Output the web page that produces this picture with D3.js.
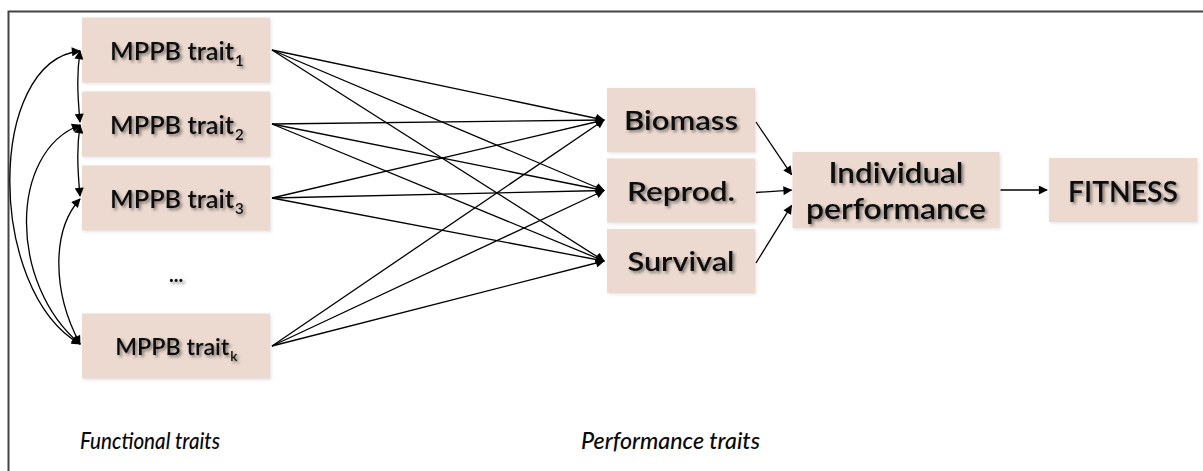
<!DOCTYPE html>
<html>
<head>
<meta charset="utf-8">
<script src="https://cdn.jsdelivr.net/npm/d3@7"></script>
<style>
  body { margin: 0; background: #fff; }
  svg { display: block; }
  text { font-family: Lato, 'Open Sans', sans-serif; fill: #0a0a0a; }
</style>
</head>
<body>
<script>
// diagram content
const traitRows = ['1', '2', '3', '...', 'k']
const traitName = 'MPPB trait'
const performanceTraits = ['Biomass', 'Reprod.', 'Survival']
const individualLabel = ['Individual', 'performance']
const fitnessLabel = ['FITNESS']
const traitCorrelations = [['1', '2'], ['2', '3'], ['1', 'k'], ['2', 'k'], ['3', 'k']]
const footLabels = ['Functional traits', 'Performance traits']

const traits = traitRows.filter(d => d !== '...')
const traitLinks = d3.cross(traits, performanceTraits)

;(function () {
  const W = 1203, H = 471
  const svg = d3.select('body').append('svg')
    .attr('width', W)
    .attr('height', H)

  const cols = ['functional', 'performance', 'individual', 'fitness']
  const colX = d3.scaleOrdinal().domain(cols).range([176, 681, 896, 1123])
  const colW = d3.scaleOrdinal().domain(cols).range([188, 148, 207, 148])
  const colH = d3.scaleOrdinal().domain(cols).range([65, 64, 76, 64])

  const yTrait = d3.scalePoint().domain(traitRows).range([50, 346])
  const yPerf = d3.scalePoint().domain(performanceTraits).range([120, 261])
  const yOut = 190

  const defs = svg.append('defs')
  defs.append('marker')
    .attr('id', 'head')
    .attr('viewBox', '0 0 10 10')
    .attr('refX', 9)
    .attr('refY', 5)
    .attr('markerUnits', 'userSpaceOnUse')
    .attr('markerWidth', 10)
    .attr('markerHeight', 9)
    .attr('orient', 'auto-start-reverse')
    .append('path')
    .attr('d', 'M0,0L10,5L0,10Z')
    .attr('fill', '#000')

  const shadow = defs.append('filter')
    .attr('id', 'shadow')
    .attr('x', '-10%').attr('y', '-20%')
    .attr('width', '130%').attr('height', '150%')
  shadow.append('feDropShadow')
    .attr('dx', 2).attr('dy', 2)
    .attr('stdDeviation', 1.5)
    .attr('flood-color', '#333')
    .attr('flood-opacity', 0.6)

  const boxShadow = defs.append('filter')
    .attr('id', 'boxshadow')
    .attr('x', '-10%').attr('y', '-10%')
    .attr('width', '125%').attr('height', '130%')
  boxShadow.append('feDropShadow')
    .attr('dx', 1.5).attr('dy', 1.5)
    .attr('stdDeviation', 1.5)
    .attr('flood-color', '#bbb')
    .attr('flood-opacity', 0.4)

  // frame (only top and left edges are inside the picture)
  svg.append('path')
    .attr('d', `M8.5,${H}V11.5H${W}`)
    .attr('fill', 'none')
    .attr('stroke', '#444')
    .attr('stroke-width', 2)

  // boxes
  const boxes = [
    ...traits.map(t => ({ col: 'functional', y: yTrait(t) })),
    ...performanceTraits.map(p => ({ col: 'performance', y: yPerf(p) })),
    { col: 'individual', y: yOut },
    { col: 'fitness', y: yOut }
  ]

  svg.append('g').selectAll('rect')
    .data(boxes)
    .enter()
    .append('rect')
    .attr('x', d => colX(d.col) - colW(d.col) / 2)
    .attr('y', d => d.y - colH(d.col) / 2)
    .attr('width', d => colW(d.col))
    .attr('height', d => colH(d.col))
    .attr('fill', '#ecd9cf')
    .attr('filter', 'url(#boxshadow)')

  // links trait -> performance
  const links = svg.append('g')
    .attr('stroke', '#000')
    .attr('stroke-width', 1.3)
    .attr('fill', 'none')

  const traitRight = colX('functional') + colW('functional') / 2 + 2
  const perfLeft = colX('performance') - colW('performance') / 2 - 3

  links.selectAll('.tl')
    .data(traitLinks)
    .enter()
    .append('line')
    .attr('x1', traitRight)
    .attr('y1', d => yTrait(d[0]))
    .attr('x2', perfLeft)
    .attr('y2', d => yPerf(d[1]))
    .attr('marker-end', 'url(#head)')

  const perfRight = colX('performance') + colW('performance') / 2 + 1
  const indLeft = colX('individual') - colW('individual') / 2 - 1
  links.selectAll('.pl')
    .data(performanceTraits)
    .enter()
    .append('line')
    .attr('x1', perfRight)
    .attr('y1', d => yPerf(d) + 2)
    .attr('x2', indLeft)
    .attr('y2', d => yOut + (yPerf(d) - yOut) * 0.22)
    .attr('marker-end', 'url(#head)')

  links.append('line')
    .attr('x1', colX('individual') + colW('individual') / 2 + 1)
    .attr('y1', yOut)
    .attr('x2', colX('fitness') - colW('fitness') / 2 - 2)
    .attr('y2', yOut)
    .attr('marker-end', 'url(#head)')

  // correlation arcs on the left
  const traitLeft = colX('functional') - colW('functional') / 2 - 2
  const bulge = d3.scaleLinear().domain([74, 148, 222, 296]).range([3, 22, 55, 71])
  const lean = d3.scaleLinear().domain([74, 296]).range([0.3, 0.03]).clamp(true)

  links.selectAll('.corr')
    .data(traitCorrelations)
    .enter()
    .append('path')
    .attr('d', d => {
      const y0 = yTrait(d[0]) + 1
      const y1 = yTrait(d[1]) - 2
      const span = y1 - y0
      const b = bulge(span) * 1.33
      const f = lean(span)
      const p = d3.path()
      p.moveTo(traitLeft, y0)
      p.bezierCurveTo(traitLeft - b, y0 + f * span, traitLeft - b, y1 - (f + 0.15) * span, traitLeft, y1)
      return p.toString()
    })
    .attr('marker-start', 'url(#head)')
    .attr('marker-end', 'url(#head)')

  // labels: size from cap height, squeezed to the measured width
  const CAP = 0.72
  function sizeText (sel, capH, width) {
    sel.attr('font-size', capH / CAP)
      .attr('textLength', width)
      .attr('lengthAdjust', 'spacingAndGlyphs')
    return sel
  }

  const labels = svg.append('g')
    .attr('filter', 'url(#shadow)')
    .attr('font-weight', 600)

  // functional traits
  traits.forEach(t => {
    const k = t === 'k' ? 0.92 : 1
    const cap = 18 * k
    const mainW = 124 * k
    const txt = labels.append('text')
      .attr('x', colX('functional') - 66 * k)
      .attr('y', yTrait(t) + cap / 2 + 1)
      .attr('font-size', cap / CAP)
    txt.append('tspan')
      .attr('textLength', mainW)
      .attr('lengthAdjust', 'spacingAndGlyphs')
      .text(traitName)
    txt.append('tspan')
      .attr('font-size', '60%')
      .attr('dx', 1)
      .attr('dy', cap * 0.35)
      .text(t)
  })

  labels.append('text')
    .attr('x', colX('functional'))
    .attr('y', yTrait('...') + 10)
    .attr('text-anchor', 'middle')
    .attr('font-size', 20)
    .attr('font-weight', 'bold')
    .attr('letter-spacing', 0)
    .text('...')

  // performance traits
  const perfWidths = d3.scaleOrdinal().domain(performanceTraits).range([114, 108, 107])
  performanceTraits.forEach(p => {
    sizeText(labels.append('text')
      .attr('x', colX('performance'))
      .attr('y', yPerf(p) + 10)
      .attr('text-anchor', 'middle')
      .text(p), 19, perfWidths(p))
  })

  // individual performance (two lines)
  const indWidths = [135, 180]
  individualLabel.forEach((l, i) => {
    sizeText(labels.append('text')
      .attr('x', colX('individual'))
      .attr('y', yOut + (i - 0.5) * 36 + 11)
      .attr('text-anchor', 'middle')
      .text(l), 21, indWidths[i])
  })

  sizeText(labels.append('text')
    .attr('x', colX('fitness'))
    .attr('y', yOut + 12)
    .attr('text-anchor', 'middle')
    .text(fitnessLabel[0]), 21, 110)

  // footer labels
  const footX = d3.scaleOrdinal().domain(footLabels).range([80, 581])
  const footW = d3.scaleOrdinal().domain(footLabels).range([140, 179])
  footLabels.forEach(l => {
    sizeText(svg.append('text')
      .attr('x', footX(l))
      .attr('y', 449)
      .attr('font-style', 'italic')
      .attr('font-weight', 500)
      .text(l), 16, footW(l))
  })
})()
</script>
</body>
</html>
